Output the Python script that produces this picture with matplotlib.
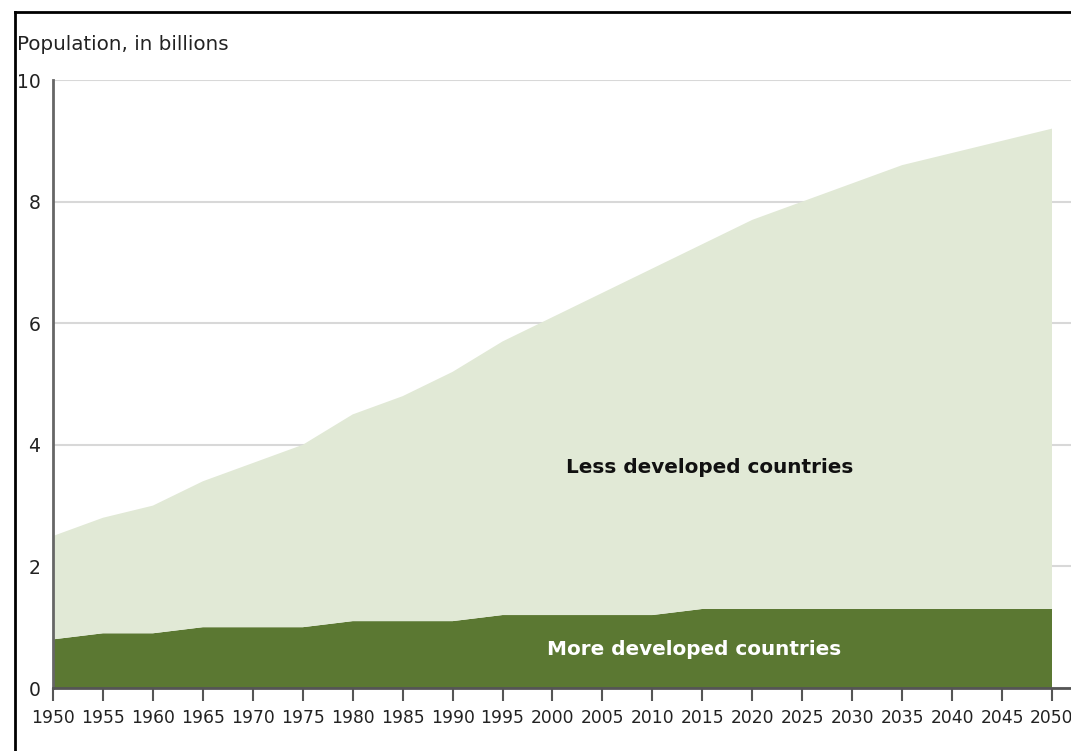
import matplotlib
matplotlib.use("Agg")
import matplotlib.pyplot as plt
from matplotlib.lines import Line2D

years = [1950, 1955, 1960, 1965, 1970, 1975, 1980, 1985, 1990, 1995, 2000,
         2005, 2010, 2015, 2020, 2025, 2030, 2035, 2040, 2045, 2050]
total = [2.5, 2.8, 3.0, 3.4, 3.7, 4.0, 4.5, 4.8, 5.2, 5.7, 6.1,
         6.5, 6.9, 7.3, 7.7, 8.0, 8.3, 8.6, 8.8, 9.0, 9.2]
more_developed = [0.8, 0.9, 0.9, 1.0, 1.0, 1.0, 1.1, 1.1, 1.1, 1.2, 1.2,
                  1.2, 1.2, 1.3, 1.3, 1.3, 1.3, 1.3, 1.3, 1.3, 1.3]
less_developed = [t - m for t, m in zip(total, more_developed)]
yticks = [0, 2, 4, 6, 8, 10]

plt.rcParams['font.family'] = ['DejaVu Sans']
W, H = 1071, 751
fig = plt.figure(figsize=(W / 100, H / 100), dpi=100)
ax = fig.add_axes([53 / W, 63 / H, 1 - 53 / W, 608 / H])

ax.stackplot(years, more_developed, less_developed,
             colors=['#5b7832', '#e1e9d6'], linewidth=0)
ax.set_xlim(1950, 1950 + (W - 53) / 9.99)
ax.set_ylim(0, 10)

ax.set_yticks(yticks)
ax.set_yticklabels([str(v) for v in yticks])
ax.set_xticks(years)
ax.set_xticklabels([str(y) for y in years])
ax.yaxis.grid(True, color='#d8d8d8', linewidth=1.5)
ax.set_axisbelow(True)
ax.tick_params(axis='y', length=0, pad=9, labelsize=13.5, colors='#222222')
ax.tick_params(axis='x', length=9, width=1.5, color='#555555', pad=6,
               labelsize=12.3, labelcolor='#222222')
for s in ['top', 'right']:
    ax.spines[s].set_visible(False)
ax.spines['left'].set_color('#666666')
ax.spines['left'].set_linewidth(2)
ax.spines['bottom'].set_color('#555555')
ax.spines['bottom'].set_linewidth(2)

ax.text(2015.7, 3.63, 'Less developed countries', ha='center', va='center',
        fontsize=14.4, fontweight='bold', color='#111111')
ax.text(2014.2, 0.63, 'More developed countries', ha='center', va='center',
        fontsize=14.4, fontweight='bold', color='white')

fig.text(17 / W, 1 - 44 / H, 'Population, in billions', ha='left', va='center',
         fontsize=14.3, color='#222222')

# outer frame (left and top edges visible)
fig.add_artist(Line2D([15 / W, 15 / W], [0, 1 - 12 / H], transform=fig.transFigure,
                      color='black', linewidth=2))
fig.add_artist(Line2D([15 / W, 1], [1 - 12 / H, 1 - 12 / H], transform=fig.transFigure,
                      color='black', linewidth=2))

fig.savefig('out.png', dpi=100)
